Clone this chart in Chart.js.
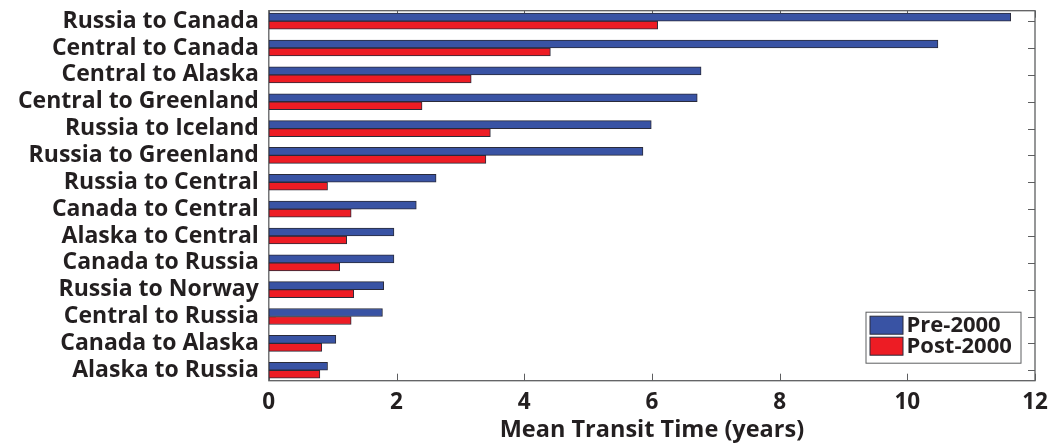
<!DOCTYPE html>
<html>
<head>
<meta charset="utf-8">
<script src="https://cdn.jsdelivr.net/npm/chart.js@4/dist/chart.umd.min.js"></script>
<style>
  html, body { margin: 0; padding: 0; background: #ffffff; }
  #c { display: block; }
</style>
</head>
<body>
<canvas id="c" width="1063" height="444"></canvas>
<script>
// Routes, top to bottom
const categories = [
  'Russia to Canada', 'Central to Canada', 'Central to Alaska', 'Central to Greenland',
  'Russia to Iceland', 'Russia to Greenland', 'Russia to Central', 'Canada to Central',
  'Alaska to Central', 'Canada to Russia', 'Russia to Norway', 'Central to Russia',
  'Canada to Alaska', 'Alaska to Russia'
];
// Mean transit time in years
const preValues  = [11.62, 10.48, 6.77, 6.71, 5.99, 5.86, 2.62, 2.31, 1.96, 1.96, 1.80, 1.78, 1.05, 0.92];
const postValues = [6.09, 4.41, 3.17, 2.40, 3.47, 3.40, 0.92, 1.29, 1.22, 1.11, 1.33, 1.29, 0.83, 0.80];
const seriesNames = ['Pre-2000', 'Post-2000'];
const xTicks = [0, 2, 4, 6, 8, 10, 12];
const axisTitle = 'Mean Transit Time (years)';

const FONT = '"Open Sans", "DejaVu Sans", sans-serif';
const INK = '#231f20';
const FRAME = '#5d5e60';
const BLUE = '#3953a4';
const RED = '#ed1c24';
const EDGE = '#2a2b3a';
const TICK_LEN = 7;

// Box around the plot with inward tick marks on all four sides
const framePlugin = {
  id: 'frame',
  beforeDatasetsDraw(chart) {
    const { ctx, chartArea: a, scales } = chart;
    ctx.save();
    ctx.strokeStyle = FRAME;
    ctx.lineWidth = 1;
    ctx.beginPath();
    scales.x.ticks.forEach(t => {
      const px = Math.round(scales.x.getPixelForValue(t.value)) + 0.5;
      ctx.moveTo(px, a.top); ctx.lineTo(px, a.top + TICK_LEN);
      ctx.moveTo(px, a.bottom); ctx.lineTo(px, a.bottom - TICK_LEN);
    });
    scales.y.ticks.forEach(t => {
      const py = Math.round(scales.y.getPixelForValue(t.value)) + 0.5;
      ctx.moveTo(a.left, py); ctx.lineTo(a.left + TICK_LEN, py);
      ctx.moveTo(a.right, py); ctx.lineTo(a.right - TICK_LEN, py);
    });
    ctx.stroke();
    ctx.lineWidth = 1.3;
    ctx.strokeRect(a.left, a.top, a.right - a.left, a.bottom - a.top);
    ctx.restore();
  }
};

// Boxed legend in the lower right corner of the plot
const boxLegend = {
  id: 'boxLegend',
  afterDraw(chart) {
    const { ctx, chartArea: a } = chart;
    const w = 155, h = 51;
    const x0 = a.right - 14.5 - w;
    const y0 = a.bottom - 18 - h;
    ctx.save();
    ctx.fillStyle = '#ffffff';
    ctx.fillRect(x0, y0, w, h);
    ctx.strokeStyle = FRAME;
    ctx.lineWidth = 1;
    ctx.strokeRect(x0 + 0.5, y0 + 0.5, w, h);
    ctx.font = 'bold 22px ' + FONT;
    ctx.textBaseline = 'middle';
    chart.data.datasets.forEach((ds, i) => {
      const sy = y0 + 4.5 + i * 21;
      ctx.fillStyle = ds.backgroundColor;
      ctx.fillRect(x0 + 4.5, sy, 33, 18);
      ctx.strokeStyle = EDGE;
      ctx.strokeRect(x0 + 4.5, sy, 33, 18);
      ctx.fillStyle = INK;
      ctx.fillText(ds.label, x0 + 41, sy + 9.5);
    });
    ctx.restore();
  }
};

const ctx = document.getElementById('c').getContext('2d');
new Chart(ctx, {
  type: 'bar',
  data: {
    datasets: [
      {
        label: seriesNames[0],
        data: preValues.map((v, i) => ({ x: v, y: i + 1 })),
        backgroundColor: BLUE,
        borderColor: EDGE,
        borderWidth: 1,
        borderSkipped: false,
        barThickness: 8
      },
      {
        label: seriesNames[1],
        data: postValues.map((v, i) => ({ x: v, y: i + 1 })),
        backgroundColor: RED,
        borderColor: EDGE,
        borderWidth: 1,
        borderSkipped: false,
        barThickness: 8
      }
    ]
  },
  options: {
    indexAxis: 'y',
    responsive: false,
    animation: false,
    devicePixelRatio: 1,
    layout: { padding: { top: 10.7, right: 28, left: 0, bottom: 0 } },
    plugins: {
      legend: { display: false },
      tooltip: { enabled: false }
    },
    scales: {
      x: {
        type: 'linear',
        position: 'bottom',
        min: 0,
        max: 12,
        bounds: 'data',
        afterBuildTicks: s => { s.ticks = xTicks.map(v => ({ value: v })); },
        afterFit: s => {
          s.height = 63.3;
          s.paddingLeft = 0; s.paddingRight = 0;
        },
        grid: { display: false, drawTicks: false, tickLength: 0 },
        border: { display: false },
        ticks: {
          color: INK,
          padding: 8,
          font: { family: FONT, size: 22.5, weight: 'bold' }
        },
        title: {
          display: true,
          text: axisTitle,
          color: INK,
          padding: { top: 0, bottom: 0 },
          font: { family: FONT, size: 23.5, weight: 'bold' }
        }
      },
      y: {
        type: 'linear',
        position: 'left',
        reverse: true,
        offset: false,
        bounds: 'data',
        min: 0.61,
        max: 14.39,
        afterBuildTicks: s => { s.ticks = categories.map((c, i) => ({ value: i + 1 })); },
        afterFit: s => {
          s.width = 268.8;
          s.paddingTop = 0; s.paddingBottom = 0;
        },
        grid: { display: false, drawTicks: false, tickLength: 0, offset: false },
        border: { display: false },
        ticks: {
          autoSkip: false,
          includeBounds: false,
          color: INK,
          padding: 10,
          font: { family: FONT, size: 23, weight: 'bold' },
          callback: v => categories[Math.round(v) - 1]
        }
      }
    }
  },
  plugins: [framePlugin, boxLegend]
});
</script>
</body>
</html>
